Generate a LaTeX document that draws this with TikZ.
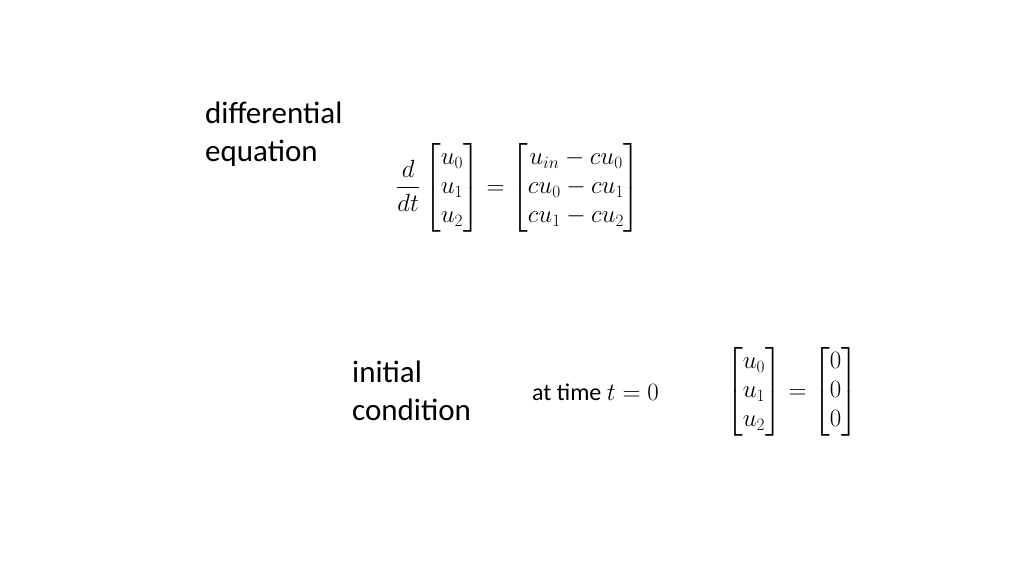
\documentclass[tikz,border=0pt]{standalone}
\usepackage{amsmath}
\usepackage{fontspec}
\setmainfont{Carlito}
\begin{document}
\begin{tikzpicture}[x=1pt,y=1pt,
  lbl/.style={anchor=west,font=\fontsize{31}{38}\selectfont,align=left,inner sep=0},
  eq/.style={anchor=west,font=\fontsize{24}{29}\selectfont,inner sep=0}]
\useasboundingbox (0,0) rectangle (1024,576);
\node[lbl] (t1) at (205,442) {differential\\equation};
\node[eq] (e1) at (396,388) {$\displaystyle\frac{d}{dt}\begin{bmatrix}u_0\\u_1\\u_2\end{bmatrix}=\begin{bmatrix}u_{in}-cu_0\\cu_0-cu_1\\cu_1-cu_2\end{bmatrix}$};
\node[lbl] (t2) at (352,185) {initial\\condition};
\node[eq] (a2) at (532,184) {at time $t=0$};
\node[eq] (e2) at (726,184) {$\begin{bmatrix}u_0\\u_1\\u_2\end{bmatrix}=\begin{bmatrix}0\\0\\0\end{bmatrix}$};
\end{tikzpicture}
\end{document}
